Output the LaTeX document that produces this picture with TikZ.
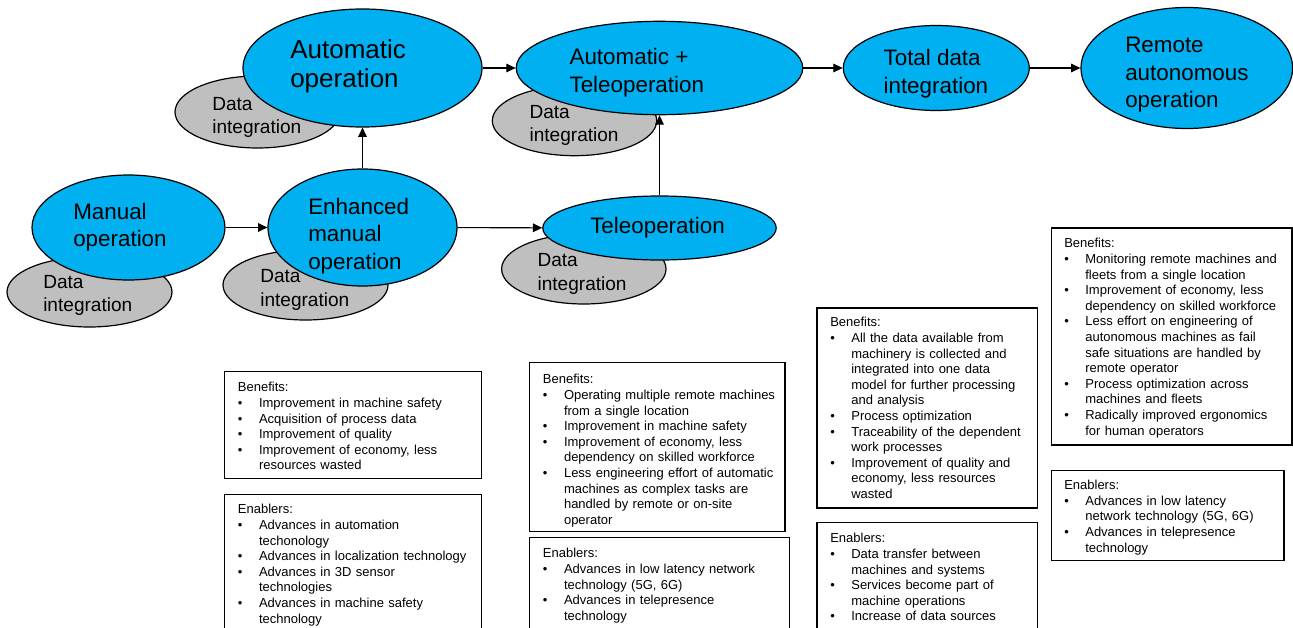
\documentclass[tikz,border=0pt]{standalone}
\usepackage{fontspec}
\setmainfont{Liberation Sans}
\usetikzlibrary{shapes.geometric,arrows.meta}
\definecolor{stageblue}{HTML}{00B0F0}
\definecolor{datagray}{HTML}{BFBFBF}
\setlength{\parindent}{0pt}
\setlength{\parskip}{0pt}
% bullet line with hanging indent for the benefit/enabler lists
\newcommand{\bitem}{\par\noindent\hangindent=15.8pt\hangafter=1\hbox to 15.8pt{•\hfil}}

\begin{document}
\begin{tikzpicture}[x=0.75pt,y=-0.75pt,
  ellsize/.style 2 args={minimum width=#1*1.5pt, minimum height=#2*1.5pt},
  stage/.style={ellipse, draw=black, line width=0.9pt, fill=stageblue, inner sep=0pt},
  dataint/.style={ellipse, draw=black, line width=0.9pt, fill=datagray, inner sep=0pt},
  stagetext/.style={anchor=north west, inner sep=0pt, align=left,
    font=\fontsize{16.8}{20.6}\selectfont},
  bigtext/.style={stagetext, font=\fontsize{19.5}{21.75}\selectfont},
  datatext/.style={anchor=north west, inner sep=0pt, align=left,
    font=\fontsize{14.3}{17.5}\selectfont},
  boxtext/.style={anchor=north west, inner sep=0pt, text width=200pt,
    font=\fontsize{9.75}{11.7}\selectfont},
  frame/.style={draw=black, line width=0.9pt},
  arr/.style={-{Triangle[length=7pt,width=6.5pt]}, line width=0.8pt}
]
\useasboundingbox (0,0) rectangle (1293,628);
\clip (0,0) rectangle (1293,628);

% data integration ellipses (behind the stages)
\node[dataint, ellsize={82.5}{35}] (dman)  at (89.5,292) {};
\node[dataint, ellsize={82.5}{35}] (denh)  at (305.5,285) {};
\node[dataint, ellsize={82.5}{36}] (dauto) at (257.5,112) {};
\node[dataint, ellsize={82.2}{35}] (dat)   at (574.5,120.7) {};
\node[dataint, ellsize={82.2}{35}] (dtel)  at (583.8,269) {};

\node[datatext] (tdman)  at (43,275)     {Data\\integration};
\node[datatext] (tdenh)  at (260,269.3)  {Data\\integration};
\node[datatext] (tdauto) at (212,96.7)   {Data\\integration};
\node[datatext] (tdat)   at (529.3,105)  {Data\\integration};
\node[datatext] (tdtel)  at (537.3,253.3) {Data\\integration};

% stages
\node[stage, ellsize={96.5}{52.5}]  (man)      at (128.5,227.5) {};
\node[stage, ellsize={94.5}{58.5}]  (enh)      at (362.5,227.5) {};
\node[stage, ellsize={119.5}{59}]   (auto)     at (362.5,68) {};
\node[stage, ellsize={143.3}{46.7}] (autotele) at (659.5,68) {};
\node[stage, ellsize={116.7}{32}]   (tel)      at (659.5,228) {};
\node[stage, ellsize={93}{42.5}]    (total)    at (936.3,68) {};
\node[stage, ellsize={105.8}{60.5}] (remote)   at (1186.8,68) {};

\node[stagetext] (tman)      at (73,203)      {Manual\\operation};
\node[stagetext] (tenh)      at (308,198)     {Enhanced\\manual\\operation};
\node[bigtext]   (tauto)     at (290,39)      {Automatic\\operation};
\node[stagetext] (tautotele) at (569.3,48.3)  {Automatic +\\Teleoperation};
\node[stagetext] (ttel)      at (590,216.7)   {Teleoperation};
\node[stagetext] (ttotal)    at (883.3,49.3)  {Total data\\integration};
\node[stagetext] (tremote)   at (1125,37.3)   {Remote\\autonomous\\operation};

% transitions
\draw[arr] (man) -- (enh);
\draw[arr] (enh) -- (auto);
\draw[arr] (enh) -- (tel);
\draw[arr] (tel) -- (autotele);
\draw[arr] (auto) -- (autotele);
\draw[arr] (autotele) -- (total);
\draw[arr] (total) -- (remote);

% benefit / enabler frames
\draw[frame] (224.3,371.7) rectangle (481.7,478.3);
\draw[frame] (224.3,494.3) rectangle (481.7,640);
\draw[frame] (529.3,362.3) rectangle (785,531.7);
\draw[frame] (529.3,537.7) rectangle (789.3,640);
\draw[frame] (817,308) rectangle (1037.7,508);
\draw[frame] (817,522.7) rectangle (1037.7,640);
\draw[frame] (1051.7,228) rectangle (1292,445);
\draw[frame] (1051.7,470.7) rectangle (1284,560.7);

\node[boxtext] (benA) at (237.7,382.3) {Benefits:
\bitem Improvement in machine safety
\bitem Acquisition of process data
\bitem Improvement of quality
\bitem Improvement of economy, less\newline resources wasted\par};

\node[boxtext] (enaA) at (237.7,504.3) {Enablers:
\bitem Advances in automation\newline techonology
\bitem Advances in localization technology
\bitem Advances in 3D sensor\newline technologies
\bitem Advances in machine safety\newline technology\par};

\node[boxtext] (benB) at (542.7,374.3) {Benefits:
\bitem Operating multiple remote machines\newline from a single location
\bitem Improvement in machine safety
\bitem Improvement of economy, less\newline dependency on skilled workforce
\bitem Less engineering effort of automatic\newline machines as complex tasks are\newline handled by remote or on-site\newline operator\par};

\node[boxtext] (enaB) at (542.7,548.3) {Enablers:
\bitem Advances in low latency network\newline technology (5G, 6G)
\bitem Advances in telepresence\newline technology\par};

\node[boxtext] (benC) at (830,317.3) {Benefits:
\bitem All the data available from\newline machinery is collected and\newline integrated into one data\newline model for further processing\newline and analysis
\bitem Process optimization
\bitem Traceability of the dependent\newline work processes
\bitem Improvement of quality and\newline economy, less resources\newline wasted\par};

\node[boxtext] (enaC) at (830,533.3) {Enablers:
\bitem Data transfer between\newline machines and systems
\bitem Services become part of\newline machine operations
\bitem Increase of data sources\par};

\node[boxtext] (benD) at (1064,238.3) {Benefits:
\bitem Monitoring remote machines and\newline fleets from a single location
\bitem Improvement of economy, less\newline dependency on skilled workforce
\bitem Less effort on engineering of\newline autonomous machines as fail\newline safe situations are handled by\newline remote operator
\bitem Process optimization across\newline machines and fleets
\bitem Radically improved ergonomics\newline for human operators\par};

\node[boxtext] (enaD) at (1064,480) {Enablers:
\bitem Advances in low latency\newline network technology (5G, 6G)
\bitem Advances in telepresence\newline technology\par};
\end{tikzpicture}
\end{document}
